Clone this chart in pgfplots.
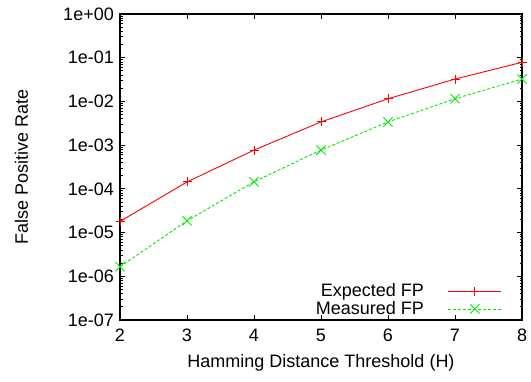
\documentclass[border=0pt]{standalone}
\usepackage{pgfplots}
\pgfplotsset{compat=1.18}
\usetikzlibrary{calc}
\usepackage{fontspec}
\setmainfont{Liberation Sans}
\definecolor{gpgreen}{RGB}{0,235,0}
\pgfdeclareplotmark{redplus}{%
  \pgfsetstrokecolor{red}\pgfsetdash{}{0pt}%
  \pgfpathmoveto{\pgfqpoint{\pgfplotmarksize}{0pt}}\pgfpathlineto{\pgfqpoint{-\pgfplotmarksize}{0pt}}%
  \pgfpathmoveto{\pgfqpoint{0pt}{\pgfplotmarksize}}\pgfpathlineto{\pgfqpoint{0pt}{-\pgfplotmarksize}}%
  \pgfusepathqstroke}
\pgfdeclareplotmark{greenx}{%
  \pgfsetstrokecolor{gpgreen}\pgfsetdash{}{0pt}%
  \pgfpathmoveto{\pgfqpoint{0.7071\pgfplotmarksize}{0.7071\pgfplotmarksize}}\pgfpathlineto{\pgfqpoint{-0.7071\pgfplotmarksize}{-0.7071\pgfplotmarksize}}%
  \pgfpathmoveto{\pgfqpoint{-0.7071\pgfplotmarksize}{0.7071\pgfplotmarksize}}\pgfpathlineto{\pgfqpoint{0.7071\pgfplotmarksize}{-0.7071\pgfplotmarksize}}%
  \pgfusepathqstroke}
\begin{document}
\fontsize{18bp}{20bp}\selectfont
\begin{tikzpicture}
\begin{axis}[
  scale only axis, width=402bp, height=306bp,
  xmin=2, xmax=8, ymode=log, ymin=1e-7, ymax=1,
  xtick={2,3,4,5,6,7,8},
  xticklabels={2,3,4,5,6,7,8},
  ytick={1e-7,1e-6,1e-5,1e-4,1e-3,1e-2,1e-1,1},
  yticklabels={1e-07,1e-06,1e-05,1e-04,1e-03,1e-02,1e-01,1e+00},
  tick align=inside,
  major tick length=5bp, minor tick length=2.5bp,
  tick style={draw=black, line width=0.8bp},
  axis line style={line width=1.1bp},
  xticklabel style={yshift=-3bp},
  xlabel={Hamming Distance Threshold (H)},
  ylabel={False Positive Rate},
  ylabel style={yshift=23bp},
  legend cell align=right,
  legend plot pos=right,
  legend style={draw=none, fill=none, at={(1,0)}, anchor=south east, xshift=-17bp, yshift=-1bp, row sep=-2bp,
    font=\fontsize{18bp}{19bp}\selectfont},
]
\addplot[draw=red, line width=0.9bp, mark=redplus, mark size=4.5bp,
  mark options={solid, draw=red},
  legend image code/.code={\path (0bp,0bp);
    \draw[draw=red, line width=0.9bp] (22bp,0bp) -- (75bp,0bp);
    \draw[draw=red, line width=0.9bp] plot[mark=redplus, mark size=4.5bp, mark options={draw=red}] coordinates {(48.5bp,0bp)};}] coordinates {
  (2,1.8e-5) (3,1.44e-4) (4,7.7e-4) (5,3.4e-3) (6,1.15e-2) (7,3.25e-2) (8,7.85e-2)};
\addlegendentry{Expected FP}
\addplot[draw=gpgreen, line width=0.9bp, dash pattern=on 3bp off 2bp, mark=greenx, mark size=6.5bp,
  mark options={solid, draw=gpgreen},
  legend image code/.code={\path (0bp,0bp);
    \draw[draw=gpgreen, line width=0.9bp, dash pattern=on 3bp off 2bp] (22bp,0bp) -- (75bp,0bp);
    \draw[draw=gpgreen, line width=0.9bp, solid] plot[mark=greenx, mark size=6.5bp, mark options={draw=gpgreen}] coordinates {(48.5bp,0bp)};}] coordinates {
  (2,1.65e-6) (3,1.86e-5) (4,1.45e-4) (5,7.7e-4) (6,3.4e-3) (7,1.15e-2) (8,3.25e-2)};
\addlegendentry{Measured FP}
\end{axis}
\pgfresetboundingbox
\path[use as bounding box] ($(current axis.south west)+(-120bp,-61bp)$) rectangle ($(current axis.north east)+(9bp,14bp)$);
\end{tikzpicture}
\end{document}
